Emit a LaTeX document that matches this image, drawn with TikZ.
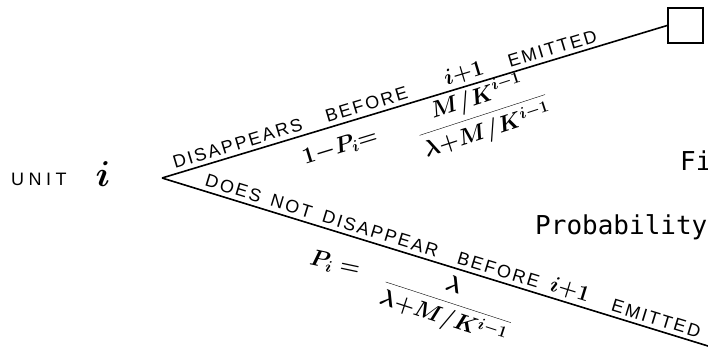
\RequirePackage{fix-cm}
\documentclass[tikz,border=0pt]{standalone}
\usepackage{fontspec}
\newfontfamily\handfont[LetterSpace=12]{Liberation Sans}
\newfontfamily\unitfont[LetterSpace=25]{Liberation Sans}
\newfontfamily\typefont{DejaVu Sans Mono}
\begin{document}
\begin{tikzpicture}[x=1pt,y=1pt,
  branch/.style={line width=1.6pt},
  word/.style={font=\handfont\fontsize{18}{18}\selectfont, sloped, above=3pt, inner sep=1pt},
  mword/.style={font=\boldmath\fontsize{22}{22}\selectfont, sloped, above=2pt, inner sep=1pt},
  eqn/.style={font=\boldmath\fontsize{23}{23}\selectfont, inner sep=0pt},
  caption/.style={font=\typefont\fontsize{26}{26}\selectfont, anchor=base west, inner sep=0pt}]
\useasboundingbox (0,0) rectangle (708,360);
\coordinate (O) at (162,182);
\coordinate (E) at (708,14);
\node[draw, line width=1.6pt, minimum size=35pt, inner sep=0pt] (sq) at (685.5,334.5) {};
\node[font=\unitfont\fontsize{18}{18}\selectfont, anchor=base west, inner sep=0pt] (unit) at (11,175) {UNIT};
\node[font=\boldmath\fontsize{36}{36}\selectfont, inner sep=0pt] (ui) at (103,186) {$i$};
\draw[branch] (O) --
  node[word,pos=0.156] (w1) {DISAPPEARS}
  node[word,pos=0.411] (w2) {BEFORE}
  node[mword,pos=0.605] (w3) {$i{+}1$}
  node[word,pos=0.779] (w4) {EMITTED}
  (sq.west);
\draw[branch] (O) --
  node[word,pos=0.125] (v1) {DOES}
  node[word,pos=0.231] (v2) {NOT}
  node[word,pos=0.394] (v3) {DISAPPEAR}
  node[word,pos=0.610] (v4) {BEFORE}
  node[mword,pos=0.740] (v5) {$i{+}1$}
  node[word,pos=0.899] (v6) {EMITTED}
  (E);
\node[eqn, rotate=17] (q1) at (340,213) {$1{-}P_i{=}$};
\node[eqn, rotate=18] (f1) at (482,246) {$\displaystyle\frac{M/K^{i-1}}{\lambda{+}M/K^{i-1}}$};
\node[eqn, rotate=-12] (q2) at (335,96) {$P_i\ {=}$};
\node[eqn, rotate=-18] (f2) at (448,57) {$\displaystyle\frac{\lambda}{\lambda{+}M/K^{i-1}}$};
\node[caption] (fig) at (680,190) {Fi};
\node[caption] (prob) at (535,126) {Probability};
\end{tikzpicture}
\end{document}
